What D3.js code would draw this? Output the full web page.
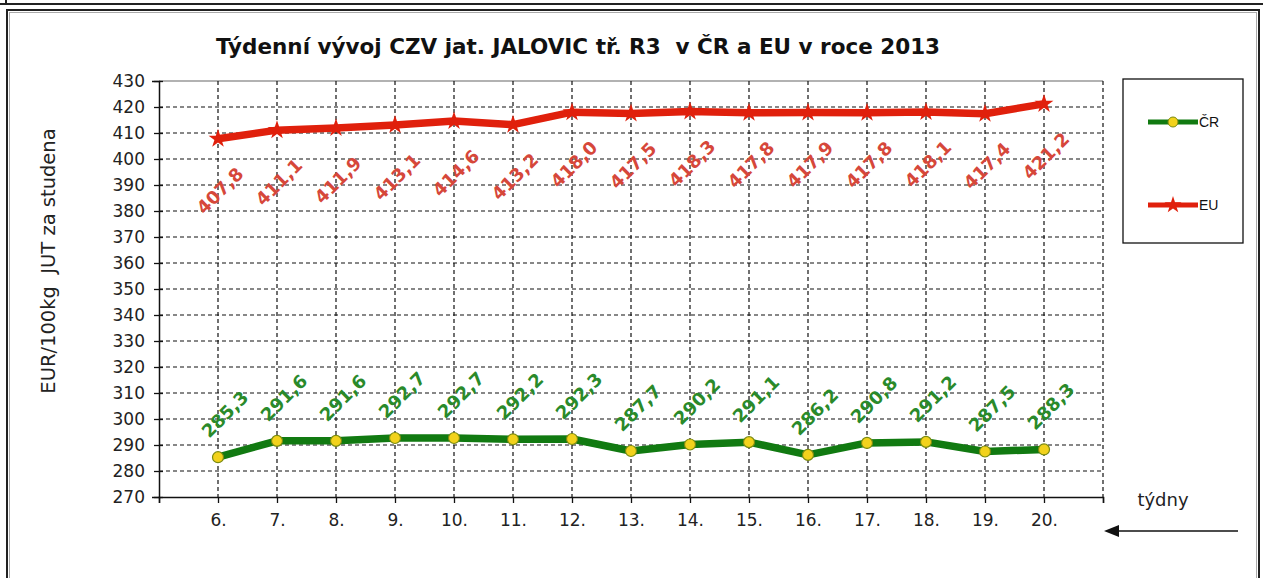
<!DOCTYPE html>
<html>
<head>
<meta charset="utf-8">
<script src="https://cdn.jsdelivr.net/npm/d3@7"></script>
<style>
  html, body { margin: 0; padding: 0; background: #fff; }
  svg { display: block; font-family: Verdana, "DejaVu Sans", sans-serif; }
</style>
</head>
<body>
<svg id="chart" width="1263" height="578"></svg>
<script>
// weekly prices, EUR/100kg carcass weight, heifers R3
const weeks = [6, 7, 8, 9, 10, 11, 12, 13, 14, 15, 16, 17, 18, 19, 20];
const euValues = [407.8, 411.1, 411.9, 413.1, 414.6, 413.2, 418.0, 417.5, 418.3, 417.8, 417.9, 417.8, 418.1, 417.4, 421.2];
const czValues = [285.3, 291.6, 291.6, 292.7, 292.7, 292.2, 292.3, 287.7, 290.2, 291.1, 286.2, 290.8, 291.2, 287.5, 288.3];
const yTicks = d3.range(270, 431, 10);
const seriesNames = ["ČR", "EU"];

const FONT = "Verdana, 'DejaVu Sans', sans-serif";
const svg = d3.select("#chart");

// outer frames (report page boxes)
svg.append("line").attr("x1", 0).attr("x2", 1263).attr("y1", 4).attr("y2", 4)
  .attr("stroke", "#222").attr("stroke-width", 2);
svg.append("line").attr("x1", 6).attr("x2", 6).attr("y1", 0).attr("y2", 4)
  .attr("stroke", "#222").attr("stroke-width", 2);
svg.append("rect").attr("x", 7).attr("y", 10).attr("width", 1252).attr("height", 580)
  .attr("fill", "none").attr("stroke", "#222").attr("stroke-width", 2);
svg.append("rect").attr("x", 9.5).attr("y", 12.5).attr("width", 1247).attr("height", 580)
  .attr("fill", "none").attr("stroke", "#aaa").attr("stroke-width", 1);

const plot = { left: 159, right: 1103, top: 81, bottom: 497 };

const x = d3.scaleLinear().domain([5, 21]).range([plot.left, plot.right]);
const y = d3.scaleLinear().domain([270, 430]).range([plot.bottom, plot.top]);
const fmt = (v) => d3.format(".1f")(v).replace(".", ",");

// title
svg.append("text")
  .attr("x", 578).attr("y", 54)
  .attr("text-anchor", "middle")
  .attr("font-size", 21.5).attr("font-weight", "bold").attr("fill", "#111")
  .attr("xml:space", "preserve")
  .text("Týdenní vývoj CZV jat. JALOVIC tř. R3  v ČR a EU v roce 2013");

// grid
const grid = svg.append("g");
grid.append("line")
  .attr("x1", plot.left).attr("x2", plot.right)
  .attr("y1", y(430)).attr("y2", y(430))
  .attr("stroke", "#999").attr("stroke-width", 1.5);
grid.selectAll("line.h").data(yTicks.filter((t) => t > 270 && t < 430)).enter()
  .append("line").attr("class", "h")
  .attr("x1", plot.left).attr("x2", plot.right)
  .attr("y1", (d) => y(d)).attr("y2", (d) => y(d))
  .attr("stroke", "#111").attr("stroke-width", 1.2).attr("stroke-dasharray", "4,3");
grid.selectAll("line.v").data(weeks.concat([21])).enter()
  .append("line").attr("class", "v")
  .attr("x1", (d) => x(d)).attr("x2", (d) => x(d))
  .attr("y1", plot.top).attr("y2", plot.bottom)
  .attr("stroke", "#111").attr("stroke-width", 1.2).attr("stroke-dasharray", "4,3");

// y axis
const yAxis = svg.append("g")
  .attr("transform", `translate(${plot.left},0)`)
  .call(d3.axisLeft(y).tickValues(yTicks).tickSize(7).tickPadding(4));
yAxis.select(".domain").attr("stroke", "#111").attr("stroke-width", 1.5);
yAxis.selectAll(".tick line").attr("x2", 4).attr("x1", -5).attr("stroke", "#111").attr("stroke-width", 1.3);
yAxis.selectAll(".tick text").attr("font-size", 17).attr("fill", "#222")
  .attr("font-family", FONT).attr("x", -14);

// x axis
const xAxis = svg.append("g")
  .attr("transform", `translate(0,${plot.bottom})`)
  .call(d3.axisBottom(x).tickValues(weeks.concat([5, 21])).tickSize(6)
    .tickFormat((d) => (d >= 6 && d <= 20 ? d + "." : "")));
xAxis.select(".domain").attr("stroke", "#111").attr("stroke-width", 1.5);
xAxis.selectAll(".tick line").attr("stroke", "#111").attr("stroke-width", 1.3);
xAxis.selectAll(".tick text").attr("font-size", 17).attr("fill", "#222")
  .attr("font-family", FONT).attr("dy", "1.2em");

// y axis title
svg.append("text")
  .attr("transform", "translate(48,261) rotate(-90)")
  .attr("text-anchor", "middle").attr("dy", "0.35em")
  .attr("font-size", 19.5).attr("fill", "#222")
  .attr("xml:space", "preserve")
  .text("EUR/100kg  JUT za studena");

// x axis note and arrow
svg.append("text").attr("x", 1163).attr("y", 506).attr("text-anchor", "middle")
  .attr("font-size", 18).attr("fill", "#222").text("týdny");
svg.append("line").attr("x1", 1238).attr("x2", 1116).attr("y1", 531).attr("y2", 531)
  .attr("stroke", "#111").attr("stroke-width", 1.5);
svg.append("path").attr("d", "M1104,531 L1119,525 L1119,537 Z").attr("fill", "#111");

const line = d3.line().x((d, i) => x(weeks[i])).y((d) => y(d));

const EU_COLOR = "#e0200c";
const CZ_COLOR = "#117a11";

// EU series
svg.append("path").datum(euValues).attr("d", line)
  .attr("fill", "none").attr("stroke", EU_COLOR).attr("stroke-width", 7.5)
  .attr("stroke-linejoin", "round");
const starSym = d3.symbol().type(d3.symbolStar).size(110);
svg.selectAll("path.eu-mark").data(euValues).enter()
  .append("path").attr("class", "eu-mark")
  .attr("transform", (d, i) => `translate(${x(weeks[i])},${y(d)})`)
  .attr("d", starSym).attr("fill", EU_COLOR);
svg.selectAll("text.eu-lab").data(euValues).enter()
  .append("text").attr("class", "eu-lab")
  .attr("transform", (d, i) => `translate(${x(weeks[i]) + 2},${y(d) + 52}) rotate(-45)`)
  .attr("text-anchor", "middle").attr("dy", "0.35em")
  .attr("font-size", 18).attr("font-weight", "bold").attr("fill", "#d6473a")
  .text((d) => fmt(d));

// CZ series
svg.append("path").datum(czValues).attr("d", line)
  .attr("fill", "none").attr("stroke", CZ_COLOR).attr("stroke-width", 7.5)
  .attr("stroke-linejoin", "round");
svg.selectAll("circle.cz-mark").data(czValues).enter()
  .append("circle").attr("class", "cz-mark")
  .attr("cx", (d, i) => x(weeks[i])).attr("cy", (d) => y(d)).attr("r", 5.5)
  .attr("fill", "#f2d21c").attr("stroke", "#7a8a10").attr("stroke-width", 1.2);
svg.selectAll("text.cz-lab").data(czValues).enter()
  .append("text").attr("class", "cz-lab")
  .attr("transform", (d, i) => `translate(${x(weeks[i]) + 7},${y(d) - 43}) rotate(-45)`)
  .attr("text-anchor", "middle").attr("dy", "0.35em")
  .attr("font-size", 18).attr("font-weight", "bold").attr("fill", "#2a8a2a")
  .text((d) => fmt(d));

// legend
const legend = svg.append("g");
legend.append("rect").attr("x", 1123).attr("y", 79).attr("width", 120).attr("height", 164)
  .attr("fill", "#fff").attr("stroke", "#111").attr("stroke-width", 1.3);
const legendRows = [
  { name: seriesNames[0], color: CZ_COLOR, y: 122 },
  { name: seriesNames[1], color: EU_COLOR, y: 205 },
];
legendRows.forEach((r, i) => {
  legend.append("line").attr("x1", 1148).attr("x2", 1198).attr("y1", r.y).attr("y2", r.y)
    .attr("stroke", r.color).attr("stroke-width", 5);
  if (i === 0) {
    legend.append("circle").attr("cx", 1173).attr("cy", r.y).attr("r", 5)
      .attr("fill", "#f2d21c").attr("stroke", "#7a8a10").attr("stroke-width", 1);
  } else {
    legend.append("path").attr("transform", `translate(1173,${r.y})`)
      .attr("d", d3.symbol().type(d3.symbolStar).size(90)).attr("fill", r.color);
  }
  legend.append("text").attr("x", 1199).attr("y", r.y).attr("dy", "0.35em")
    .attr("font-size", 14).attr("font-family", "Arial, 'Liberation Sans', sans-serif")
    .attr("fill", "#111").text(r.name);
});
</script>
</body>
</html>
